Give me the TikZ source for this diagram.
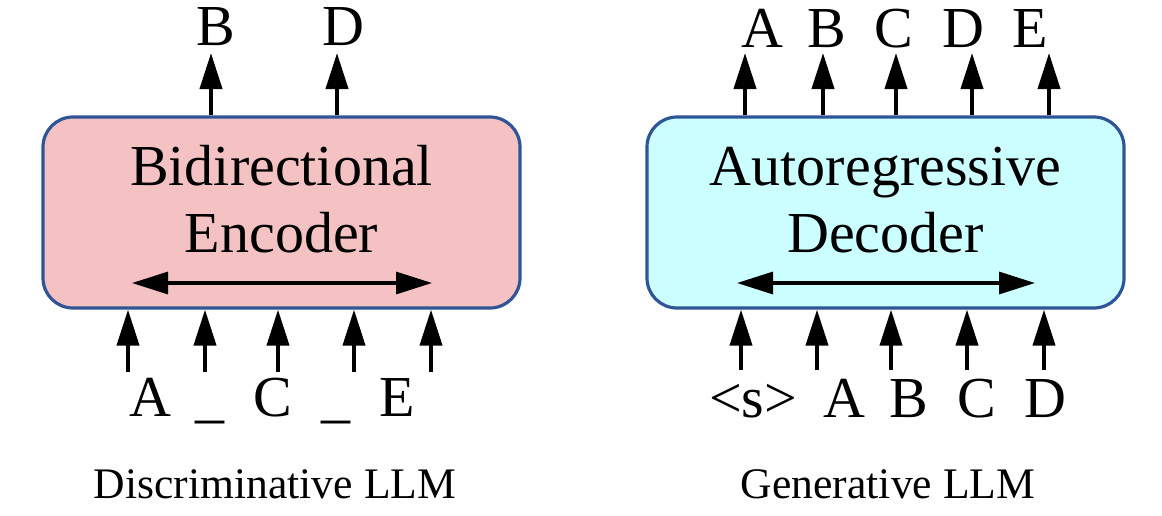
\documentclass[tikz,border=0pt]{standalone}
\usepackage{fontspec}
\setmainfont{Liberation Serif}
\usetikzlibrary{arrows.meta}
\definecolor{boxline}{HTML}{2F5597}
\definecolor{encfill}{HTML}{F4C2C2}
\definecolor{decfill}{HTML}{CCFFFF}
\tikzset{
  blk/.style={draw=boxline, line width=1.6pt, rounded corners=15pt, inner sep=0pt},
  big/.style={font=\fontsize{29}{33}\selectfont, inner sep=0pt, anchor=base},
  captiontext/.style={font=\fontsize{21.8}{25}\selectfont, inner sep=0pt, anchor=base},
  arr/.style={line width=2pt, -{Triangle[length=18pt,width=11pt]}},
  darr/.style={line width=1.6pt, {Triangle[length=18pt,width=11pt]}-{Triangle[length=18pt,width=11pt]}}
}
\begin{document}
\begin{tikzpicture}[x=0.5pt,y=-0.5pt]
\useasboundingbox (0,0) rectangle (1162,515);
% boxes
\node[blk, fill=encfill, minimum width=238.5pt, minimum height=95.5pt] (enc) at (281.5,212.5) {};
\node[blk, fill=decfill, minimum width=238.5pt, minimum height=95.5pt] (dec) at (885.5,212.5) {};
% box texts
\node[big] (encT1) at (281.5,185) {Bidirectional};
\node[big] (encT2) at (281.5,252) {Encoder};
\node[big] (decT1) at (885.5,185) {Autoregressive};
\node[big] (decT2) at (885.5,252) {Decoder};
% inner double arrows
\coordinate (eL) at (132,283); \coordinate (eR) at (432,283);
\coordinate (dL) at (737,283); \coordinate (dR) at (1035,283);
\draw[darr] (eL) -- (eR);
\draw[darr] (dL) -- (dR);
% top outputs left
\coordinate (to1) at (211,53); \coordinate (to2) at (337,53);
\draw[arr] (to1 |- enc.north) -- (to1);
\draw[arr] (to2 |- enc.north) -- (to2);
\node[big] (oB) at (216,45) {B};
\node[big] (oD) at (343,45) {D};
% top outputs right
\foreach \i/\x in {1/745,2/823,3/896,4/972,5/1049}{
  \coordinate (tr\i) at (\x,53);
  \draw[arr] (tr\i |- dec.north) -- (tr\i);
}
\node[big] (gA) at (762,47) {A};
\node[big] (gB) at (827,47) {B};
\node[big] (gC) at (894,47) {C};
\node[big] (gD) at (963,47) {D};
\node[big] (gE) at (1030,47) {E};
% bottom inputs left
\foreach \i/\x in {1/128,2/205,3/278,4/354,5/431}{
  \coordinate (bl\i) at (\x,372);
  \draw[arr] (bl\i) -- (bl\i |- enc.south);
}
\node[big] (iA) at (150,416) {A};
\node[big] (iU1) at (210,416) {\_};
\node[big] (iC) at (273,416) {C};
\node[big] (iU2) at (336,416) {\_};
\node[big] (iE) at (397,416) {E};
% bottom inputs right
\foreach \i/\x in {1/741,2/817,3/891,4/967,5/1044}{
  \coordinate (br\i) at (\x,370);
  \draw[arr] (br\i) -- (br\i |- dec.south);
}
\node[big] (jS) at (753,417) {<s>};
\node[big] (jA) at (844,417) {A};
\node[big] (jB) at (909,417) {B};
\node[big] (jC) at (977,417) {C};
\node[big] (jD) at (1045,417) {D};
% captions
\node[captiontext] (c1) at (275,498) {Discriminative LLM};
\node[captiontext] (c2) at (888,498) {Generative LLM};
\end{tikzpicture}
\end{document}
